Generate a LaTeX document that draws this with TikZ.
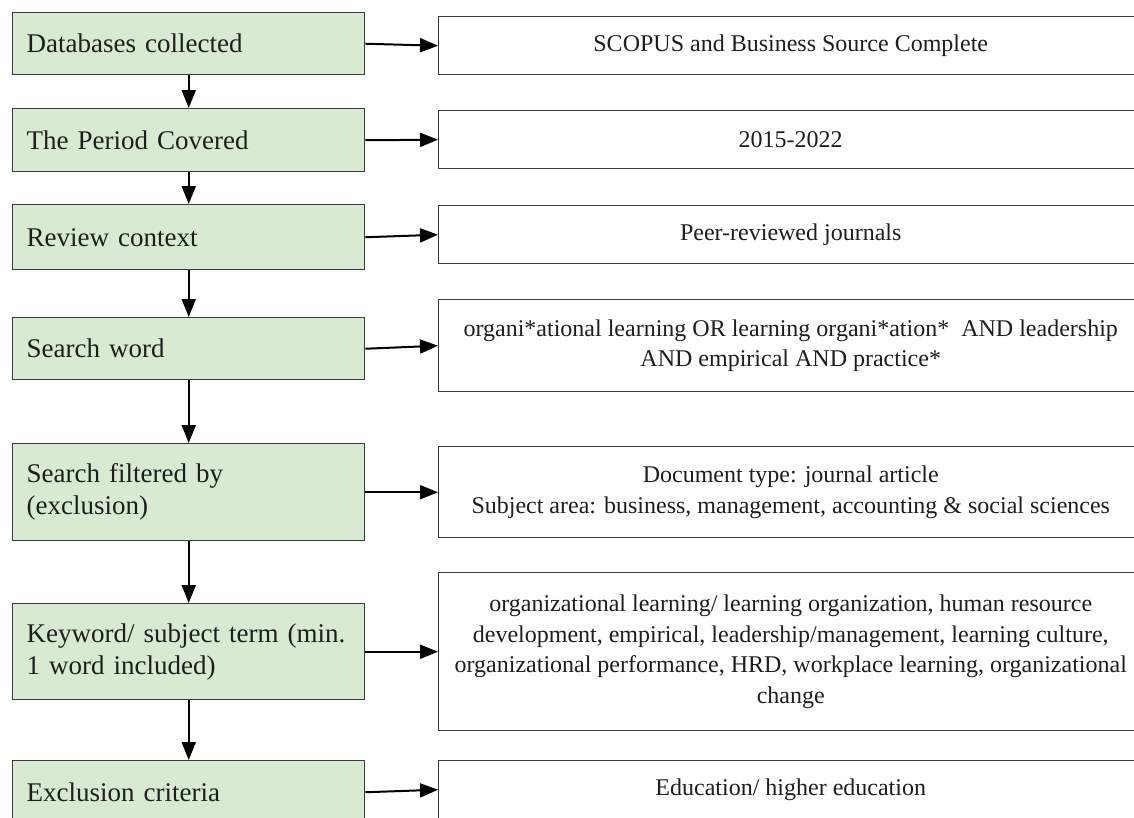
\documentclass[tikz,border=0pt]{standalone}
\usepackage{fontspec}
\setmainfont{Liberation Serif}
\usetikzlibrary{arrows.meta}
\definecolor{boxgreen}{HTML}{D9EAD3}
\definecolor{boxline}{HTML}{3C3C3C}
\definecolor{txt}{HTML}{1E1E1E}
\begin{document}
\begin{tikzpicture}[x=0.75pt,y=-0.75pt,
  lbox/.style={draw=boxline, line width=1.1pt, fill=boxgreen, anchor=north west,
    minimum width=264pt, text width=243pt, inner xsep=10.5pt, inner ysep=0pt,
    align=left, font=\fontsize{20.25}{24}\selectfont, text=txt},
  rbox/.style={draw=boxline, line width=1.1pt, fill=white, anchor=north west,
    minimum width=528pt, inner sep=0pt, align=center,
    font=\fontsize{18}{23}\selectfont, text=txt},
  conn/.style={-{Triangle[length=13.5pt,width=10.5pt]}, line width=1.5pt, black}]
\useasboundingbox (0,0) rectangle (1134,817);
\clip (0,0) rectangle (1134,817);
\fill[white] (0,0) rectangle (1134,817);

% left column
\node[lbox, minimum height=46.5pt]  (l1) at (12,12)  {Databases collected};
\node[lbox, minimum height=47.25pt] (l2) at (12,108) {The Period Covered};
\node[lbox, minimum height=48.75pt] (l3) at (12,204) {Review context};
\node[lbox, minimum height=46.5pt]  (l4) at (12,317) {Search word};
\node[lbox, minimum height=72.75pt] (l5) at (12,443) {Search filtered by\\(exclusion)};
\node[lbox, minimum height=72pt]    (l6) at (12,603) {\mbox{Keyword/ subject term (min.}\\1 word included)};
\node[lbox, minimum height=47.25pt] (l7) at (12,760) {Exclusion criteria};

% right column
\node[rbox, minimum height=43.5pt]  (r1) at (438,16)  {SCOPUS and Business Source Complete};
\node[rbox, minimum height=43.5pt]  (r2) at (438,110) {2015-2022};
\node[rbox, minimum height=43.5pt]  (r3) at (438,205) {Peer-reviewed journals};
\node[rbox, minimum height=69pt]    (r4) at (438,299) {organi*ational learning OR learning organi*ation*\ \ AND leadership\\AND empirical AND practice*};
\node[rbox, minimum height=68.25pt] (r5) at (438,446) {Document type: journal article\\Subject area: business, management, accounting \& social sciences};
\node[rbox, minimum height=118.5pt] (r6) at (438,572) {organizational learning/ learning organization, human resource\\development, empirical, leadership/management, learning culture,\\organizational performance, HRD, workplace learning, organizational\\change};
\node[rbox, minimum height=43.5pt]  (r7) at (438,760) {Education/ higher education};

% vertical connectors
\draw[conn] (l1.south) -- (l2.north);
\draw[conn] (l2.south) -- (l3.north);
\draw[conn] (l3.south) -- (l4.north);
\draw[conn] (l4.south) -- (l5.north);
\draw[conn] (l5.south) -- (l6.north);
\draw[conn] (l6.south) -- (l7.north);

% horizontal connectors
\draw[conn] (l1.east) -- (r1.west);
\draw[conn] (l2.east) -- (r2.west);
\draw[conn] (l3.east) -- (r3.west);
\draw[conn] (l4.east) -- (r4.west);
\draw[conn] (l5.east) -- (r5.west);
\draw[conn] (l6.east) -- (r6.west);
\draw[conn] (l7.east) -- (r7.west);
\end{tikzpicture}
\end{document}
